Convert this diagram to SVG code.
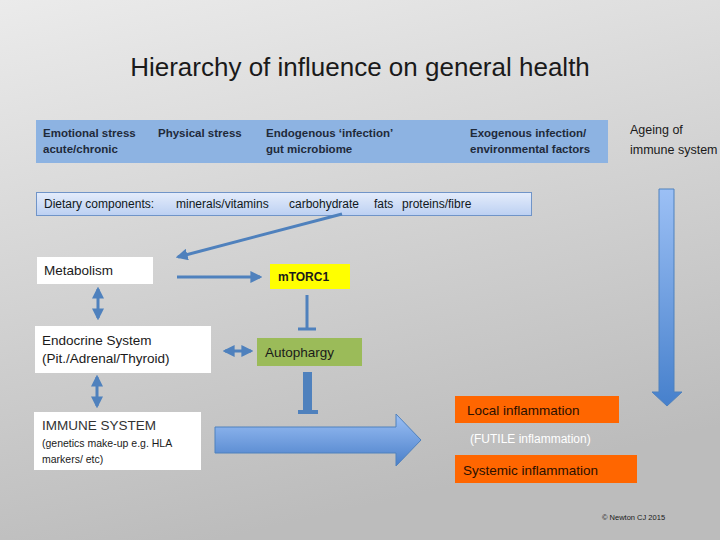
<svg xmlns="http://www.w3.org/2000/svg" width="720" height="540" viewBox="0 0 720 540">
<defs>
<linearGradient id="bg" x1="0" y1="0" x2="0.3" y2="1">
<stop offset="0" stop-color="#ebebeb"/>
<stop offset="1" stop-color="#bcbcbc"/>
</linearGradient>
<linearGradient id="diet" x1="0" y1="0" x2="0" y2="1">
<stop offset="0" stop-color="#e4ecfb"/>
<stop offset="1" stop-color="#bcd0f2"/>
</linearGradient>
<linearGradient id="bigH" x1="0" y1="0" x2="0" y2="1">
<stop offset="0" stop-color="#9cc0f5"/>
<stop offset="1" stop-color="#4a7fc9"/>
</linearGradient>
<linearGradient id="bigV" x1="0" y1="0" x2="0" y2="1">
<stop offset="0" stop-color="#9cc0f5"/>
<stop offset="1" stop-color="#4680cc"/>
</linearGradient>
<marker id="ah" viewBox="0 0 10 10" refX="8" refY="5" markerWidth="4" markerHeight="4" orient="auto-start-reverse" markerUnits="strokeWidth">
<path d="M0,0 L10,5 L0,10 z" fill="#4f81bd"/>
</marker>
<style>
text{font-family:"Liberation Sans",Arial,sans-serif;fill:#1a1a1a}
.top{font-size:11.5px;font-weight:bold;fill:#1f2a3a}
.box{font-size:13.5px}
.wb{fill:#ffffff}
.conn{stroke:#4f81bd;stroke-width:3;fill:none}
.orange{fill:#ff6600}
</style>
</defs>
<rect width="720" height="540" fill="url(#bg)"/>
<text x="360" y="76" text-anchor="middle" style="font-size:26px">Hierarchy of influence on general health</text>

<g id="factors">
<rect x="36" y="120" width="572" height="43" fill="#8db3e2"/>
<text class="top" x="43" y="137">Emotional stress</text>
<text class="top" x="43" y="153">acute/chronic</text>
<text class="top" x="158" y="137">Physical stress</text>
<text class="top" x="266" y="137">Endogenous ‘infection’</text>
<text class="top" x="266" y="153">gut microbiome</text>
<text class="top" x="470" y="137">Exogenous infection/</text>
<text class="top" x="470" y="153">environmental factors</text>
</g>

<g id="ageing">
<text x="630" y="134" style="font-size:12.5px">Ageing of</text>
<text x="630" y="154" style="font-size:12.5px">immune system</text>
</g>

<g id="dietary">
<rect x="36.5" y="192.5" width="495" height="23" fill="url(#diet)" stroke="#7094c8" stroke-width="1"/>
<text y="208" style="font-size:12px;fill:#101820"><tspan x="44">Dietary components:</tspan><tspan x="176">minerals/vitamins</tspan><tspan x="289">carbohydrate</tspan><tspan x="374">fats</tspan><tspan x="402">proteins/fibre</tspan></text>
</g>

<g id="metabolism">
<rect x="37" y="257" width="116" height="27" class="wb"/>
<text class="box" x="44" y="275">Metabolism</text>
</g>

<g id="mtorc1">
<rect x="270" y="264" width="80" height="25" fill="#ffff00"/>
<text x="278" y="281" style="font-size:12px;font-weight:bold">mTORC1</text>
</g>

<g id="endocrine">
<rect x="35" y="326" width="176" height="47" class="wb"/>
<text class="box" x="42" y="345">Endocrine System</text>
<text class="box" x="42" y="363">(Pit./Adrenal/Thyroid)</text>
</g>

<g id="autophargy">
<rect x="257" y="338" width="105" height="28" fill="#9bbb59"/>
<text class="box" x="265" y="357">Autophargy</text>
</g>

<g id="immune">
<rect x="34" y="412" width="167" height="58" class="wb"/>
<text x="42" y="430" style="font-size:13.5px;fill:#333">IMMUNE SYSTEM</text>
<text x="42" y="447" style="font-size:10.5px">(genetics make-up e.g. HLA</text>
<text x="42" y="463" style="font-size:10.5px">markers/ etc)</text>
</g>

<g id="local">
<rect x="455" y="396" width="164" height="27" class="orange"/>
<text class="box" x="467" y="415" style="fill:#2a1000">Local inflammation</text>
</g>

<g id="futile">
<text x="470" y="443" style="font-size:12px;fill:#ffffff">(FUTILE inflammation)</text>
</g>

<g id="systemic">
<rect x="455" y="455" width="182" height="28" class="orange"/>
<text class="box" x="463" y="475" style="fill:#2a1000">Systemic inflammation</text>
</g>

<text x="602" y="520" style="font-size:7.5px">© Newton CJ 2015</text>

<g id="connectors">
<line class="conn" x1="342" y1="214" x2="178" y2="257" marker-end="url(#ah)"/>
<line class="conn" x1="177" y1="277" x2="260" y2="277" marker-end="url(#ah)"/>
<line class="conn" x1="98" y1="289" x2="98" y2="318" marker-start="url(#ah)" marker-end="url(#ah)"/>
<line class="conn" x1="97" y1="377" x2="97" y2="406" marker-start="url(#ah)" marker-end="url(#ah)"/>
<line class="conn" x1="225" y1="351" x2="251" y2="351" marker-start="url(#ah)" marker-end="url(#ah)"/>
<line x1="307" y1="295" x2="307" y2="329" stroke="#4f81bd" stroke-width="3"/>
<line x1="298" y1="329" x2="316" y2="329" stroke="#4f81bd" stroke-width="3"/>
<rect x="303" y="372" width="9" height="40" fill="#4f81bd"/>
<rect x="298" y="410" width="20" height="4" fill="#4f81bd"/>
<path d="M215,427 L396,427 L396,414 L421,440 L396,466 L396,453 L215,453 Z" fill="url(#bigH)" stroke="#4f81bd" stroke-width="1"/>
<path d="M659,189 L674,189 L674,392 L682,392 L667,406 L652,392 L659,392 Z" fill="url(#bigV)" stroke="#4f81bd" stroke-width="1"/>
</g>
</svg>
